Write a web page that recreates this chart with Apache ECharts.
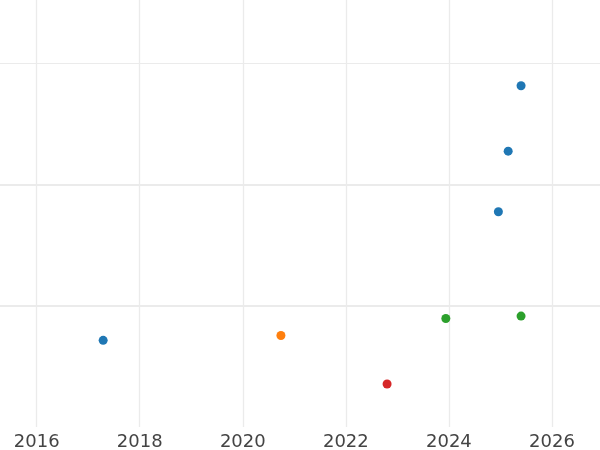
<!DOCTYPE html>
<html>
<head>
<meta charset="utf-8">
<script src="https://cdn.jsdelivr.net/npm/echarts@6/dist/echarts.min.js"></script>
<style>html,body{margin:0;padding:0;background:#fff}#c{width:600px;height:450px}</style>
</head>
<body>
<div id="c"></div>
<script>
// Data (x = year, y = relative value)
var blueX = [2017.29, 2024.96, 2025.15, 2025.40];
var blueY = [0.715, 1.775, 2.275, 2.815];
var orangeX = [2020.74];
var orangeY = [0.755];
var greenX = [2023.94, 2025.40];
var greenY = [0.895, 0.915];
var redX = [2022.80];
var redY = [0.355];
var xTicks = [2016, 2018, 2020, 2022, 2024, 2026];

function pairs(xs, ys) { return xs.map(function (x, i) { return [x, ys[i]]; }); }

var chart = echarts.init(document.getElementById('c'), null, { renderer: 'canvas' });
var grid = '#ebebeb';
function series(name, xs, ys, color, extra) {
  var s = {
    name: name, type: 'scatter', data: pairs(xs, ys), symbolSize: 9,
    itemStyle: { color: color, opacity: 1 }, z: 5
  };
  if (extra) Object.assign(s, extra);
  return s;
}
chart.setOption({
  animation: false,
  backgroundColor: '#ffffff',
  grid: { left: 0, right: 0, top: 0, bottom: 23, containLabel: false },
  xAxis: {
    type: 'value', min: 2015.288, max: 2026.932,
    axisLine: { show: false }, axisTick: { show: false },
    splitLine: { show: false },
    axisLabel: { show: false }
  },
  yAxis: {
    type: 'value', min: 0, max: 3.522, interval: 1,
    axisLine: { show: false }, axisTick: { show: false },
    axisLabel: { show: false },
    splitLine: { show: true, showMinLine: false, showMaxLine: false, lineStyle: { color: grid, width: 1 } }
  },
  series: [
    series('blue', blueX, blueY, '#1f77b4', {
      markLine: {
        silent: true, symbol: 'none', animation: false, z: 1,
        label: { show: false },
        lineStyle: { color: grid, width: 2, type: 'solid' },
        data: [{ yAxis: 1 }, { yAxis: 2 }]
      }
    }),
    series('orange', orangeX, orangeY, '#ff7f0e'),
    series('green', greenX, greenY, '#2ca02c'),
    series('red', redX, redY, '#d62728', {
      markLine: {
        silent: true, symbol: 'none', animation: false, z: 1,
        label: {
          show: true, position: 'start', distance: 6,
          formatter: function (p) { return String(p.value); },
          color: '#444444', fontSize: 18, fontFamily: 'DejaVu Sans'
        },
        lineStyle: { color: grid, width: 1.3, type: 'solid' },
        data: xTicks.map(function (t) { return { xAxis: t }; })
      }
    })
  ]
});
</script>
</body>
</html>
